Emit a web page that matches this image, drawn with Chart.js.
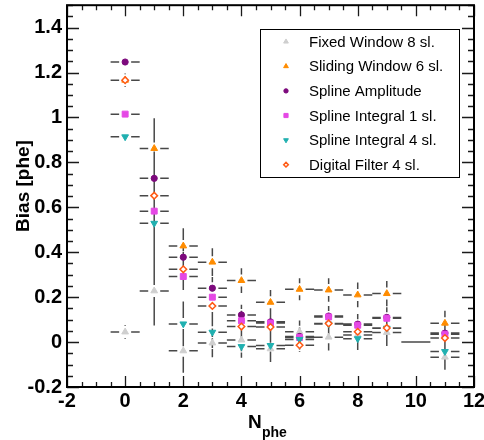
<!DOCTYPE html>
<html>
<head>
<meta charset="utf-8">
<script src="https://cdn.jsdelivr.net/npm/chart.js@4/dist/chart.umd.min.js"></script>
<style>
  html, body { margin: 0; padding: 0; background: #fff; }
  #wrap { width: 484px; height: 440px; }
</style>
</head>
<body>
<div id="wrap"><canvas id="bias-chart" width="484" height="440"></canvas></div>
<script>
// bin centres (N_phe) and per-extractor bias values
const nPhe = [0, 1, 2, 3, 4, 5, 6, 7, 8, 9, 11];

const fixedWindow   = [0.045, 0.228, -0.039, -0.004, 0.009, -0.030, 0.046, 0.022, 0.032, 0.043, -0.067];
const fixedErr      = [0.030, 0.154, 0.097, 0.064, 0.050, 0.059, 0.050, 0.060, 0.050, 0.060, 0.056];
const slidingWindow = [1.166, 0.862, 0.428, 0.356, 0.274, 0.177, 0.235, 0.232, 0.210, 0.216, 0.084];
const slidingErr    = [0.030, 0.135, 0.079, 0.062, 0.055, 0.055, 0.049, 0.052, 0.055, 0.056, 0.055];
const splineAmp     = [1.247, 0.729, 0.378, 0.240, 0.121, 0.090, 0.025, 0.116, 0.080, 0.110, 0.040];
const splineAmpErr  = [0.010, 0.120, 0.060, 0.050, 0.045, 0.045, 0.040, 0.045, 0.045, 0.045, 0.045];
const splineInt1    = [1.015, 0.583, 0.292, 0.200, 0.095, 0.085, 0.020, 0.112, 0.075, 0.106, 0.035];
const splineInt1Err = [0.010, 0.120, 0.060, 0.050, 0.045, 0.045, 0.040, 0.045, 0.045, 0.045, 0.045];
const splineInt4    = [0.914, 0.529, 0.081, 0.044, -0.020, -0.015, 0.012, 0.080, 0.015, 0.062, -0.042];
const splineInt4Err = [0.010, 0.200, 0.100, 0.070, 0.050, 0.050, 0.045, 0.050, 0.050, 0.050, 0.060];
const digitalFilter = [1.166, 0.652, 0.324, 0.161, 0.069, 0.067, -0.014, 0.083, 0.046, 0.063, 0.018];
const digitalErr    = [0.010, 0.120, 0.060, 0.050, 0.045, 0.045, 0.030, 0.045, 0.045, 0.045, 0.045];

const emptyBins = [10];   // bin drawn only as a flat bar at zero
const binHalfWidth = 0.5;

const xTicks = [-2, 0, 2, 4, 6, 8, 10, 12];
const yTicks = [-0.2, 0, 0.2, 0.4, 0.6, 0.8, 1, 1.2, 1.4];

function pts(vals, errs) {
  return nPhe.map((x, i) => ({ x: x, y: vals[i], err: errs[i] }));
}

const tickFont = { family: "'Liberation Sans', Arial, sans-serif", size: 20, weight: 'bold' };

// ROOT style frame with inward major/minor ticks on all sides
const frameTicks = {
  id: 'frameTicks',
  afterDatasetsDraw(chart) {
    const { ctx, chartArea: a, scales: { x, y } } = chart;
    ctx.save();
    ctx.strokeStyle = '#1a1a1a';
    ctx.lineWidth = 1.3;
    ctx.beginPath();
    for (let v = -2; v <= 12.001; v += 0.5) {
      const px = Math.round(x.getPixelForValue(v)) + 0.5;
      const len = Math.abs(v % 2) < 1e-6 ? 11 : 5;
      ctx.moveTo(px, a.bottom); ctx.lineTo(px, a.bottom - len);
      ctx.moveTo(px, a.top); ctx.lineTo(px, a.top + len);
    }
    for (let k = 0; k <= 34; k++) {
      const v = -0.2 + k * 0.05;
      const py = Math.round(y.getPixelForValue(v)) + 0.5;
      const len = k % 4 === 0 ? 12 : 6;
      ctx.moveTo(a.left, py); ctx.lineTo(a.left + len, py);
      ctx.moveTo(a.right, py); ctx.lineTo(a.right - len, py);
    }
    ctx.stroke();
    ctx.lineWidth = 2;
    ctx.strokeStyle = '#000';
    ctx.strokeRect(a.left, a.top, a.right - a.left, a.bottom - a.top);
    ctx.restore();
  }
};

// x and y error bars, with a gap around each marker
const errorBars = {
  id: 'errorBars',
  beforeDatasetsDraw(chart) {
    const { ctx, scales: { x, y } } = chart;
    const gap = 6;
    ctx.save();
    ctx.lineWidth = 1.5;
    ctx.strokeStyle = '#484848';
    ctx.beginPath();
    chart.data.datasets.forEach(ds => {
      ds.data.forEach(p => {
        const px = x.getPixelForValue(p.x), py = y.getPixelForValue(p.y);
        const xl = x.getPixelForValue(p.x - binHalfWidth), xr = x.getPixelForValue(p.x + binHalfWidth);
        ctx.moveTo(xl, py); ctx.lineTo(px - gap, py);
        ctx.moveTo(px + gap, py); ctx.lineTo(xr, py);
        const yt = y.getPixelForValue(p.y + p.err), yb = y.getPixelForValue(p.y - p.err);
        if (py - yt > gap) { ctx.moveTo(px, py - gap); ctx.lineTo(px, yt); }
        if (yb - py > gap) { ctx.moveTo(px, py + gap); ctx.lineTo(px, yb); }
      });
    });
    emptyBins.forEach(b => {
      const py = y.getPixelForValue(0);
      ctx.moveTo(x.getPixelForValue(b - binHalfWidth), py);
      ctx.lineTo(x.getPixelForValue(b + binHalfWidth), py);
    });
    ctx.stroke();

    // axis titles
    ctx.fillStyle = '#000';
    ctx.font = "bold 19px 'Liberation Sans', Arial, sans-serif";
    ctx.textAlign = 'left';
    ctx.textBaseline = 'alphabetic';
    ctx.fillText('N', 248, 428);
    ctx.font = "bold 14px 'Liberation Sans', Arial, sans-serif";
    ctx.fillText('phe', 262, 437);
    ctx.save();
    ctx.translate(29, 186);
    ctx.rotate(-Math.PI / 2);
    ctx.font = "bold 19px 'Liberation Sans', Arial, sans-serif";
    ctx.textAlign = 'center';
    ctx.fillText('Bias [phe]', 0, 0);
    ctx.restore();
    ctx.restore();
  }
};

// boxed legend in the upper right of the frame
const boxLegend = {
  id: 'boxLegend',
  afterDraw(chart) {
    const ctx = chart.ctx;
    ctx.save();
    ctx.fillStyle = '#fff';
    ctx.fillRect(260, 29, 199, 148);
    ctx.strokeStyle = '#000';
    ctx.lineWidth = 1;
    ctx.strokeRect(260.5, 29.5, 199, 148);
    ctx.font = "15px 'Liberation Sans', Arial, sans-serif";
    ctx.textBaseline = 'middle';
    chart.data.datasets.forEach((ds, i) => {
      const ry = 41.7 + i * 24.6;
      ctx.fillStyle = ds.pointBackgroundColor;
      ctx.strokeStyle = ds.pointBorderColor;
      ctx.lineWidth = ds.pointBorderWidth;
      Chart.helpers.drawPoint(ctx, {
        pointStyle: ds.pointStyle, rotation: ds.pointRotation || 0,
        radius: ds.pointRadius * 0.7, borderWidth: ds.pointBorderWidth
      }, 286, ry);
      ctx.fillStyle = '#000';
      ctx.fillText(ds.label, 309, ry + 1);
    });
    ctx.restore();
  }
};

function series(label, vals, errs, style, color, fill, radius, extra) {
  return Object.assign({
    label: label,
    data: pts(vals, errs),
    showLine: false,
    pointStyle: style,
    pointRadius: radius,
    pointHoverRadius: radius,
    pointBackgroundColor: fill,
    pointBorderColor: color,
    pointBorderWidth: 1
  }, extra || {});
}

const ctx = document.getElementById('bias-chart');

new Chart(ctx, {
  type: 'scatter',
  data: {
    datasets: [
      series('Fixed Window 8 sl.', fixedWindow, fixedErr, 'triangle', '#cfcfcf', '#cfcfcf', 3.9, { order: 5 }),
      series('Sliding Window 6 sl.', slidingWindow, slidingErr, 'triangle', '#ff8c00', '#ff8c00', 3.9, { order: 4 }),
      series('Spline Amplitude', splineAmp, splineAmpErr, 'circle', '#7d0a7d', '#7d0a7d', 3.1, { order: 3 }),
      series('Spline Integral 1 sl.', splineInt1, splineInt1Err, 'rect', '#e548e5', '#e548e5', 4.2, { order: 2 }),
      series('Spline Integral 4 sl.', splineInt4, splineInt4Err, 'triangle', '#20b0b0', '#20b0b0', 3.9, { order: 1, pointRotation: 180 }),
      series('Digital Filter 4 sl.', digitalFilter, digitalErr, 'rectRot', '#ff5a14', '#ffffff', 3.3, { order: 0, pointBorderWidth: 1.5 })
    ]
  },
  options: {
    responsive: false,
    animation: false,
    events: [],
    layout: { padding: { left: 0, top: 5, right: 10, bottom: 0 } },
    plugins: {
      legend: { display: false },
      tooltip: { enabled: false }
    },
    scales: {
      x: {
        type: 'linear',
        min: -2,
        max: 12,
        afterBuildTicks: s => { s.ticks = xTicks.map(v => ({ value: v })); },
        afterFit: s => { s.height = 53; s.paddingLeft = 0; s.paddingRight = 0; },
        grid: { display: false, drawTicks: false },
        border: { display: false },
        ticks: { font: tickFont, color: '#000', padding: 2, maxRotation: 0, autoSkip: false,
                 callback: v => String(v) }
      },
      y: {
        type: 'linear',
        min: -0.2,
        max: 1.5,
        afterBuildTicks: s => { s.ticks = yTicks.map(v => ({ value: v })); },
        afterFit: s => { s.width = 67; s.paddingTop = 0; s.paddingBottom = 0; },
        grid: { display: false, drawTicks: false },
        border: { display: false },
        ticks: { font: tickFont, color: '#000', padding: 5, autoSkip: false,
                 callback: v => String(Math.round(v * 10) / 10) }
      }
    }
  },
  plugins: [errorBars, frameTicks, boxLegend]
});
</script>
</body>
</html>
